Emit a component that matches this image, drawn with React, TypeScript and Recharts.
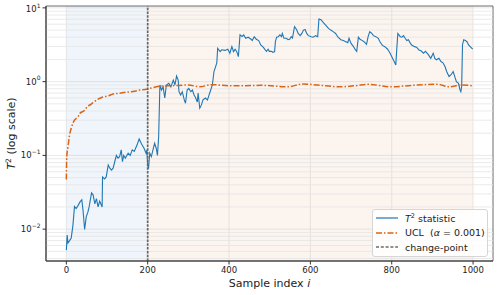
import { LineChart, Line, XAxis, YAxis, CartesianGrid, ReferenceArea, ReferenceLine, Label } from 'recharts';

// T^2 statistic (sample index -> value)
const T2_INDEX = [
  0, 2, 4, 8, 12, 16, 18, 20, 24, 29, 34, 38, 41, 45, 49, 53, 56, 62, 66, 70, 74, 78, 82, 88, 89, 94, 98,
  103, 107, 111, 115, 119, 123, 127, 131, 135, 138, 141, 145, 152, 157, 162, 167, 174, 179, 185, 191, 196,
  198, 200, 202, 205, 209, 213, 217, 221, 224, 227, 230, 234, 238, 242, 246, 252, 257, 263, 267, 271, 275,
  277, 281, 285, 290, 293, 297, 301, 306, 310, 314, 317, 322, 324, 328, 332, 336, 342, 347, 351, 355, 359,
  363, 367, 370, 372, 378, 382, 390, 397, 402, 407, 411, 415, 419, 423, 427, 432, 436, 441, 447, 454, 457,
  462, 467, 473, 478, 484, 489, 492, 496, 499, 504, 508, 512, 514, 517, 521, 525, 529, 531, 535, 541, 545,
  549, 553, 556, 561, 566, 570, 575, 579, 583, 587, 591, 595, 602, 607, 613, 618, 621, 626, 632, 637, 644,
  650, 656, 662, 668, 675, 681, 687, 692, 695, 700, 706, 711, 714, 718, 722, 728, 732, 738, 742, 746, 751,
  755, 761, 767, 771, 777, 783, 790, 796, 802, 806, 810, 812, 815, 821, 825, 829, 833, 837, 841, 845, 849,
  856, 861, 867, 872, 878, 883, 890, 896, 902, 906, 910, 916, 921, 926, 931, 935, 941, 946, 951, 955, 959,
  964, 968, 970, 972, 974, 977, 981, 985, 989, 993, 999,
];
const T2_VALUE = [
  0.0052, 0.0083, 0.0065, 0.007, 0.0076, 0.011, 0.0148, 0.0203, 0.019, 0.021, 0.0236, 0.025, 0.018, 0.0099,
  0.0148, 0.017, 0.02, 0.031, 0.029, 0.022, 0.026, 0.02, 0.024, 0.02, 0.051, 0.048, 0.051,
  0.074, 0.067, 0.063, 0.067, 0.082, 0.1, 0.092, 0.096, 0.119, 0.082, 0.1, 0.092, 0.107, 0.1, 0.119, 0.113,
  0.139, 0.167, 0.143, 0.125, 0.107,
  0.119, 0.074, 0.066, 0.107, 0.096, 0.119, 0.146, 0.125, 0.1, 0.18, 0.9, 0.77, 0.85, 0.6, 0.9, 0.95, 0.85,
  1.05, 0.9, 1.19, 1.05,
  0.73, 0.66, 0.73, 0.565, 0.51, 0.77, 0.81, 0.73, 0.77, 0.66, 0.62, 0.53, 0.7, 0.436, 0.48, 0.565, 0.6,
  0.565, 0.66, 0.77, 0.9,
  1.37, 1.6, 1.8, 2.83, 2.55, 2.7, 2.65, 2.75, 2.43, 2.98, 2.55, 2.75, 2.55, 2.18, 4.3, 4.1, 4.3, 3.87, 4.0,
  3.76, 3.6,
  4.07, 3.76, 3.6, 3.14, 2.93, 2.69, 2.57, 2.75, 2.57, 2.57, 2.5, 2.55, 3.48, 4.0, 4.07, 4.3, 4.07, 4.5,
  3.87, 3.87, 3.7,
  3.76, 4.07, 3.9, 5.56, 5.1, 4.5, 4.2, 4.5, 5.0, 5.1, 4.5, 4.2, 4.07, 4.0, 4.2, 4.07, 7.08, 6.9, 6.3, 5.87,
  5.3,
  5.0, 4.76, 4.5, 4.0, 3.7, 3.6, 3.48, 3.38, 3.87, 3.3, 2.98, 2.69, 2.57, 4.0, 3.76, 3.6, 3.48, 3.2, 4.07,
  4.76, 4.5,
  4.2, 4.07, 3.87, 3.48, 3.1, 2.98, 2.75, 2.43, 2.07, 1.87, 1.68, 2.57, 4.5, 4.07, 4.0, 4.2, 3.87, 3.6, 3.7,
  3.38, 3.14,
  2.98, 2.93, 2.69, 2.62, 2.43, 2.57, 2.32, 2.07, 2.43, 2.07, 1.98, 2.07, 1.87, 1.8, 1.6, 1.37, 1.17, 1.24,
  1.37, 1.17, 1.0,
  0.95, 0.77, 0.73, 0.87, 3.14, 3.7, 3.6, 3.48, 3.14, 2.98, 2.75,
];

// upper control limit (alpha = 0.001)
const UCL_INDEX = [
  0, 1, 4, 8, 12, 16, 20, 29, 33, 45, 49, 62, 66, 78, 90, 103, 115, 135, 148, 168, 181, 197, 201, 217, 234,
  260, 300, 328, 357, 400, 440, 480, 546, 580, 617, 673, 710, 743, 797, 850, 912, 941, 970, 999,
];
const UCL_VALUE = [
  0.047, 0.096, 0.13, 0.19, 0.233, 0.27, 0.3, 0.336, 0.37, 0.41, 0.44, 0.5, 0.52, 0.58, 0.62, 0.64, 0.68,
  0.7, 0.72, 0.74, 0.77, 0.79, 0.8, 0.84, 0.87,
  0.88, 0.9, 0.85, 0.91, 0.88, 0.88, 0.89, 0.85, 0.93, 0.9, 0.85, 0.88, 0.92, 0.85, 0.89, 0.92, 0.85, 0.9,
  0.88,
];

const X_TICKS = [0, 200, 400, 600, 800, 1000];
const Y_TICKS = [0.01, 0.1, 1, 10];
const Y_MINOR = [
  0.004, 0.005, 0.006, 0.007, 0.008, 0.009,
  0.02, 0.03, 0.04, 0.05, 0.06, 0.07, 0.08, 0.09,
  0.2, 0.3, 0.4, 0.5, 0.6, 0.7, 0.8, 0.9,
  2, 3, 4, 5, 6, 7, 8, 9,
];
const CHANGE_POINT = 200;
const LAST_SAMPLE = 1000;

const t2Data = T2_INDEX.map((i, k) => ({ i, t2: T2_VALUE[k] }));
const uclData = UCL_INDEX.map((i, k) => ({ i, ucl: UCL_VALUE[k] }));

const FONT = '"DejaVu Sans", sans-serif';
const BLUE = '#1f77b4';
const ORANGE = '#db6413';
const GRID = '#e4e4e4';

function YTick({ x, y, payload }: any) {
  const e = Math.round(Math.log10(payload.value));
  const exp = e < 0 ? '\u2212' + -e : String(e);
  return (
    <text x={x} y={y} dy={3} textAnchor="end" fontSize={8.5} fill="#222" fontFamily={FONT}>
      10<tspan dy={-4.5} fontSize={6}>{exp}</tspan>
    </text>
  );
}

function ChartLegend() {
  const row = { display: 'flex', alignItems: 'center', height: 14.5 } as const;
  return (
    <div
      style={{
        position: 'absolute', left: 372, top: 209, width: 116, height: 48,
        background: 'rgba(255,255,255,0.85)', border: '1px solid #d6d6d6', borderRadius: 3,
        fontFamily: FONT, fontSize: 9.5, color: '#222', boxSizing: 'border-box', padding: '1px 0 0 2px',
      }}
    >
      <div style={row}>
        <svg width={30} height={8}><line x1={1} y1={4} x2={23} y2={4} stroke={BLUE} strokeWidth={1.2} /></svg>
        <span><i>T</i><sup style={{ fontSize: 6.5 }}>2</sup> statistic</span>
      </div>
      <div style={row}>
        <svg width={30} height={8}><line x1={1} y1={4} x2={23} y2={4} stroke={ORANGE} strokeWidth={1.5} strokeDasharray="6 2 1.5 2" /></svg>
        <span style={{ whiteSpace: 'pre' }}>UCL  (<i>α</i> = 0.001)</span>
      </div>
      <div style={row}>
        <svg width={30} height={8}><line x1={1} y1={4} x2={23} y2={4} stroke="#222" strokeWidth={1} strokeDasharray="3 1.8" /></svg>
        <span>change-point</span>
      </div>
    </div>
  );
}

export default function App() {
  return (
    <div style={{ position: 'absolute', left: 0, top: 0, width: 498, height: 295, background: '#fff' }}>
      <LineChart width={498} height={295} margin={{ top: 6, right: 5, bottom: 0, left: 0 }}>
        <ReferenceArea x1={0} x2={CHANGE_POINT} fill={BLUE} fillOpacity={0.07} stroke="none" />
        <ReferenceArea x1={CHANGE_POINT} x2={LAST_SAMPLE} fill="#d4621a" fillOpacity={0.07} stroke="none" />
        <CartesianGrid stroke={GRID} strokeWidth={0.8} />
        {Y_MINOR.map((v) => (
          <ReferenceLine key={v} y={v} stroke={GRID} strokeWidth={0.8} />
        ))}
        <XAxis
          type="number"
          dataKey="i"
          domain={[-50, 1049]}
          ticks={X_TICKS}
          allowDataOverflow
          height={34}
          tickSize={3.5}
          tickMargin={2}
          stroke="#333"
          tick={{ fontSize: 8.5, fill: '#222', fontFamily: FONT }}
        >
          <Label
            content={() => (
              <text x={269.5} y={287} textAnchor="middle" fontSize={11} fill="#222" fontFamily={FONT}>
                Sample index <tspan fontStyle="italic">i</tspan>
              </text>
            )}
          />
        </XAxis>
        <YAxis
          type="number"
          scale="log"
          domain={[0.0037, 10.6]}
          ticks={Y_TICKS}
          allowDataOverflow
          width={46}
          tickSize={3.5}
          tickMargin={2}
          stroke="#333"
          tick={<YTick />}
        >
          <Label
            content={() => (
              <text transform="translate(15,133.5) rotate(-90)" textAnchor="middle" fontSize={11} fill="#222" fontFamily={FONT}>
                <tspan fontStyle="italic">T</tspan>
                <tspan dy={-4} fontSize={7.5}>2</tspan>
                <tspan dy={4}> (log scale)</tspan>
              </text>
            )}
          />
        </YAxis>
        <ReferenceArea x1={-50} x2={1049} fill="none" stroke="#555" strokeWidth={0.8} />
        <Line data={t2Data} dataKey="t2" type="linear" stroke={BLUE} strokeWidth={1.1} dot={false} isAnimationActive={false} />
        <Line data={uclData} dataKey="ucl" type="monotone" stroke={ORANGE} strokeWidth={1.5} strokeDasharray="6 2 1.5 2" dot={false} isAnimationActive={false} />
        <ReferenceLine x={CHANGE_POINT} stroke="#666" strokeWidth={1.7} strokeDasharray="2.5 1.3" />
      </LineChart>
      <ChartLegend />
    </div>
  );
}
